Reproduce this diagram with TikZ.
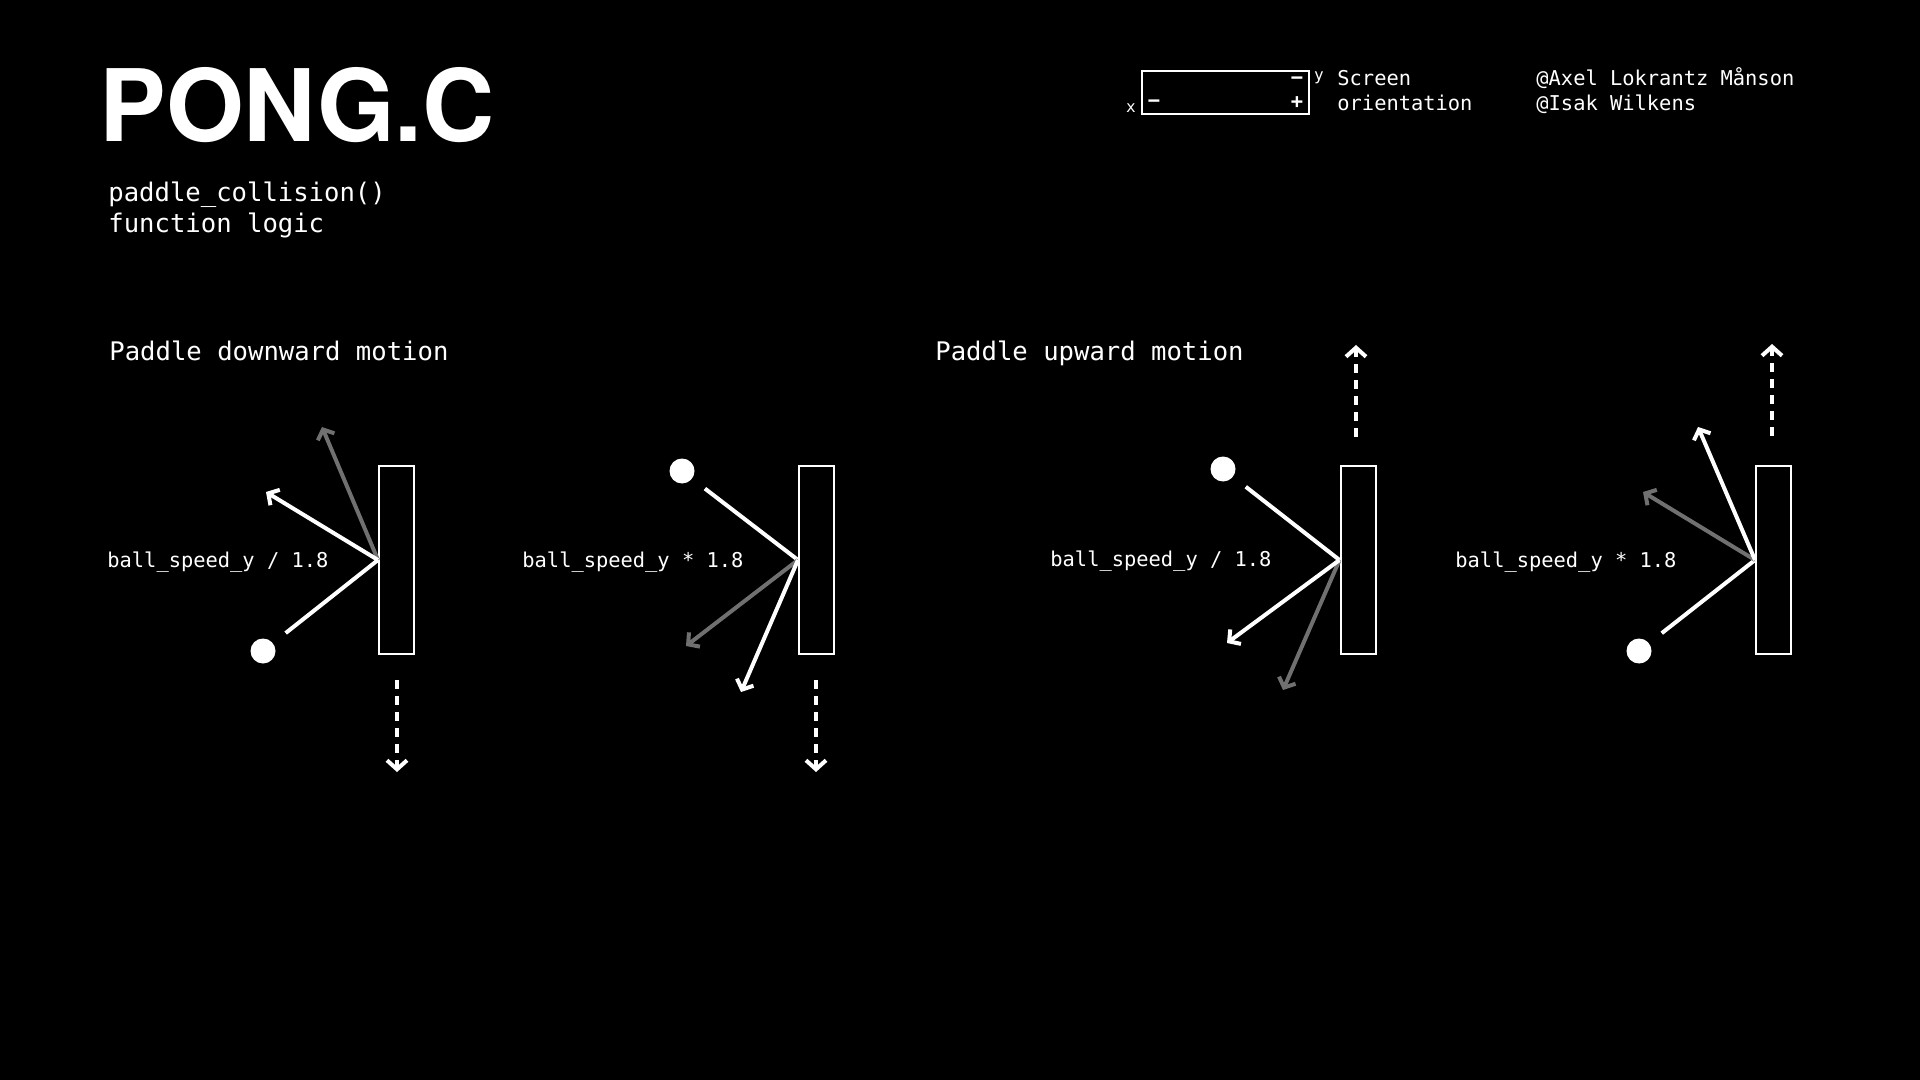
\documentclass[tikz,border=0pt]{standalone}
\usepackage{fontspec}
\setmainfont{TeX Gyre Heros}
\setmonofont{DejaVu Sans Mono}
\usetikzlibrary{arrows.meta, positioning}
\definecolor{tracegray}{RGB}{112,112,112}
\tikzset{
  paddlebox/.style={rectangle, draw=white, line width=1pt, minimum width=17.5pt,
    minimum height=94pt, inner sep=0pt},
  ballnode/.style={circle, fill=white, minimum size=12.5pt, inner sep=0pt},
  incoming/.style={line width=2pt, white, shorten <=8pt},
  bounce/.style={line width=2pt, white, -{Straight Barb[length=4pt, width=9pt]}},
  oldbounce/.style={bounce, tracegray},
  motion/.style={line width=2pt, white, dash pattern=on 4.5pt off 3.5pt,
    -{Straight Barb[length=4.5pt, width=10pt]}},
  monotext/.style={anchor=base west, inner sep=0pt, text=white,
    font=\ttfamily\fontsize{10.2}{12}\selectfont},
  headtext/.style={monotext, font=\ttfamily\fontsize{12.8}{16}\selectfont},
  signtext/.style={text=white, inner sep=0pt,
    font=\ttfamily\bfseries\fontsize{10.2}{12}\selectfont},
}

\begin{document}
\begin{tikzpicture}[x=0.5pt, y=-0.5pt]
  \fill[black] (0,0) rectangle (1920,1080);
  \useasboundingbox (0,0) rectangle (1920,1080);

  % header
  \node[anchor=base west, inner sep=0pt, text=white,
    font=\fontsize{50}{52}\selectfont\bfseries] (title) at (99,142) {PONG.C};
  \node[headtext] (sub1) at (108,202) {paddle\_collision()};
  \node[headtext] (sub2) at (108,233) {function logic};

  % screen orientation
  \node[rectangle, draw=white, line width=1pt, minimum width=83.5pt,
    minimum height=21.5pt, inner sep=0pt] (screen) at (1225.5,92.5) {};
  \node[signtext] (ymin) at (1297,81) {−};
  \node[signtext] (xmin) at (1154,104) {−};
  \node[signtext] (plus) at (1297,103) {+};
  \node[text=white, inner sep=0pt, font=\ttfamily\fontsize{8}{9}\selectfont]
    (xaxis) at (1131,108) {x};
  \node[text=white, inner sep=0pt, font=\ttfamily\fontsize{8}{9}\selectfont]
    (yaxis) at (1319,78) {y};
  \node[monotext] (scr1) at (1337,86) {Screen};
  \node[monotext] (scr2) at (1337,111) {orientation};
  \node[monotext] (auth1) at (1536,86) {@Axel Lokrantz Månson};
  \node[monotext] (auth2) at (1536,111) {@Isak Wilkens};

  % section titles
  \node[headtext] (downtitle) at (109,360) {Paddle downward motion};
  \node[headtext] (uptitle) at (935,360) {Paddle upward motion};

  % downward, divide
  \node[paddlebox] (pad1) at (396.5,560) {};
  \node[ballnode] (ball1) at (263,651) {};
  \coordinate (hit1) at (pad1.west);
  \coordinate (new1) at (266,492);
  \coordinate (old1) at (322,427);
  \coordinate (mova1) at (397,680);
  \coordinate (movb1) at (397,772);
  \node[monotext] (lab1) at (107,567) {ball\_speed\_y / 1.8};
  \draw[incoming] (ball1) -- (hit1);
  \draw[oldbounce] (hit1) -- (old1);
  \draw[bounce] (hit1) -- (new1);
  \draw[motion] (mova1) -- (movb1);

  % downward, multiply
  \node[paddlebox] (pad2) at (816.5,560) {};
  \node[ballnode] (ball2) at (682,471) {};
  \coordinate (hit2) at (pad2.west);
  \coordinate (old2) at (686,646);
  \coordinate (new2) at (741,692);
  \coordinate (mova2) at (816,680);
  \coordinate (movb2) at (816,772);
  \node[monotext] (lab2) at (522,567) {ball\_speed\_y * 1.8};
  \draw[incoming] (ball2) -- (hit2);
  \draw[oldbounce] (hit2) -- (old2);
  \draw[bounce] (hit2) -- (new2);
  \draw[motion] (mova2) -- (movb2);

  % upward, divide
  \node[paddlebox] (pad3) at (1358,560) {};
  \node[ballnode] (ball3) at (1223,469) {};
  \coordinate (hit3) at (pad3.west);
  \coordinate (new3) at (1227,643);
  \coordinate (old3) at (1283,690);
  \coordinate (mova3) at (1356,437);
  \coordinate (movb3) at (1356,345);
  \node[monotext] (lab3) at (1050,566) {ball\_speed\_y / 1.8};
  \draw[incoming] (ball3) -- (hit3);
  \draw[oldbounce] (hit3) -- (old3);
  \draw[bounce] (hit3) -- (new3);
  \draw[motion] (mova3) -- (movb3);

  % upward, multiply
  \node[paddlebox] (pad4) at (1773.5,560) {};
  \node[ballnode] (ball4) at (1639,651) {};
  \coordinate (hit4) at (pad4.west);
  \coordinate (new4) at (1698,427);
  \coordinate (old4) at (1643,492);
  \coordinate (mova4) at (1772,436);
  \coordinate (movb4) at (1772,344);
  \node[monotext] (lab4) at (1455,567) {ball\_speed\_y * 1.8};
  \draw[incoming] (ball4) -- (hit4);
  \draw[oldbounce] (hit4) -- (old4);
  \draw[bounce] (hit4) -- (new4);
  \draw[motion] (mova4) -- (movb4);
\end{tikzpicture}
\end{document}
